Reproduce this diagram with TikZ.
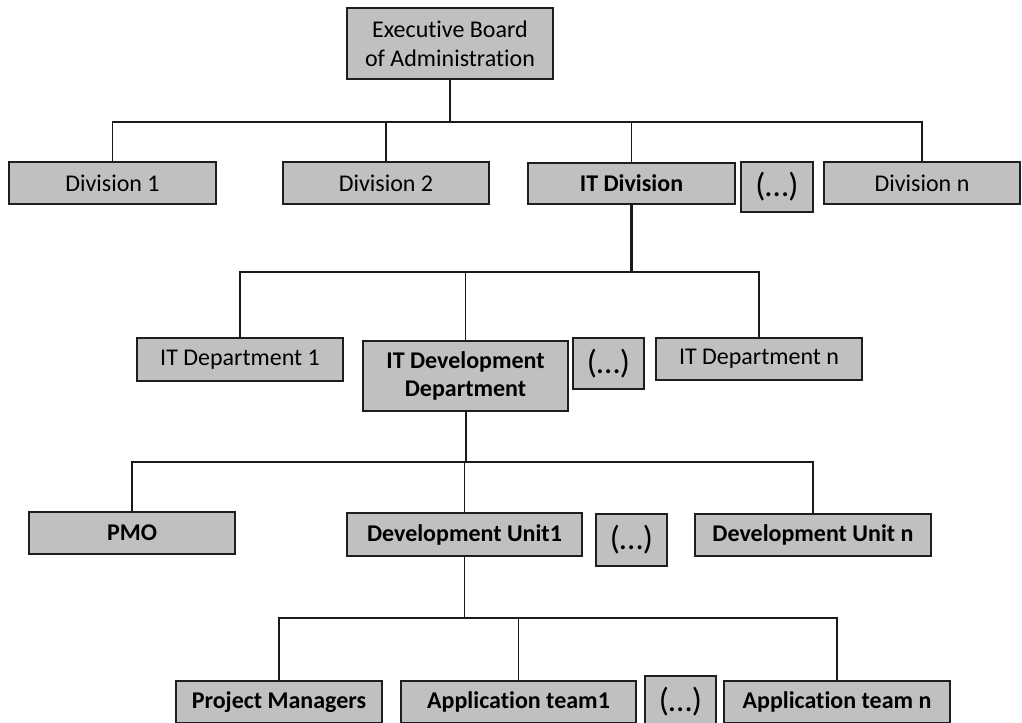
\documentclass[tikz,border=0pt]{standalone}
\usepackage{fontspec}
\setmainfont{Carlito}[Ligatures=NoCommon]
\definecolor{boxfill}{HTML}{C0C0C0}
\definecolor{boxline}{HTML}{1E1E1E}
\definecolor{wireline}{HTML}{1A1A1A}
\begin{document}
\begin{tikzpicture}[x=0.75pt,y=-0.75pt,
  box/.style={draw=boxline,fill=boxfill,line width=1.3pt,inner sep=0pt,
    align=center,font=\fontsize{18}{21.5}\selectfont},
  bbox/.style={box,font=\fontsize{18}{21.5}\selectfont\bfseries},
  dotsbox/.style={box,font=\fontsize{25}{28}\selectfont},
  wh/.style n args={2}{minimum width=#1*0.75pt,minimum height=#2*0.75pt},
  wire/.style={draw=wireline,line width=1.1pt},
  heavy/.style={draw=wireline,line width=2.1pt},
  medium/.style={draw=wireline,line width=1.5pt}]
\useasboundingbox (0,0) rectangle (1022,722);

% top level
\node[box,wh={206}{71}] (exec) at (450,43.5) {Executive Board\\of Administration};

% divisions
\node[box,wh={207}{42}] (div1) at (112.5,183) {Division 1};
\node[box,wh={206}{42}] (div2) at (386,183) {Division 2};
\node[bbox,wh={207}{41}] (itdiv) at (631.5,183.5) {IT Division};
\node[dotsbox,wh={72}{50}] (dots1) at (777,187) {(…)};
\node[box,wh={196}{42}] (divn) at (922,183) {Division n};

% IT departments
\node[box,wh={206}{43}] (itdep1) at (240,359.5) {IT Department 1};
\node[bbox,wh={205}{70}] (itdev) at (465.5,376) {IT Development\\Department};
\node[dotsbox,wh={71}{51}] (dots2) at (608.5,363.5) {(…)};
\node[box,wh={206}{42}] (itdepn) at (759,359) {IT Department n};

% development units
\node[bbox,wh={206}{42}] (pmo) at (132,533) {PMO};
\node[bbox,wh={235}{43}] (du1) at (464.5,534.5) {Development Unit1};
\node[dotsbox,wh={71}{52}] (dots3) at (631.5,540) {(…)};
\node[bbox,wh={236}{42}] (dun) at (813,535) {Development Unit n};

% teams
\node[bbox,wh={206}{42}] (pm) at (279,702) {Project Managers};
\node[bbox,wh={235}{42}] (at1) at (518.5,702) {Application team1};
\node[dotsbox,wh={71}{52}] (dots4) at (680.5,702) {(…)};
\node[bbox,wh={226}{42}] (atn) at (837,702) {Application team n};

% bus junctions
\coordinate (bus1) at (451,122);
\coordinate (bus2) at (631,272);
\coordinate (bus3) at (464,462);
\coordinate (bus4) at (463,618);

% board to divisions
\draw[medium] (exec.south) -- (exec.south |- bus1);
\draw[wire] (div1.north) |- (bus1) -| (divn.north);
\draw[wire] (div2.north) -- (div2.north |- bus1);
\draw[wire] (itdiv.north) -- (itdiv.north |- bus1);

% IT division to departments
\draw[heavy] (itdiv.south) -- (itdiv.south |- bus2);
\draw[medium] (itdep1.north) |- (bus2);
\draw[wire] (bus2) -| (itdepn.north);
\draw[wire] (itdev.north) -- (itdev.north |- bus2);

% IT development department to units
\draw[medium] (itdev.south) -- (itdev.south |- bus3);
\draw[wire] (pmo.north) |- (bus3) -| (dun.north);
\draw[wire] (du1.north) -- (du1.north |- bus3);

% development unit to teams
\draw[wire] (du1.south) -- (du1.south |- bus4);
\draw[wire] (pm.north) |- (bus4) -| (atn.north);
\draw[wire] (at1.north) -- (at1.north |- bus4);
\end{tikzpicture}
\end{document}
